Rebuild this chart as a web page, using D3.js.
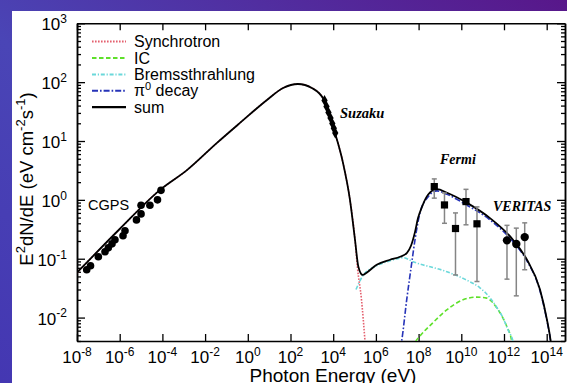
<!DOCTYPE html>
<html>
<head>
<meta charset="utf-8">
<script src="https://cdn.jsdelivr.net/npm/d3@7"></script>
<style>
  html, body { margin: 0; padding: 0; overflow: hidden; background: #fff; }
  svg { display: block; }
  text { font-family: "Liberation Sans", Arial, Helvetica, sans-serif; fill: #000; }
  .obs { font-family: "Liberation Serif", "Times New Roman", serif; font-style: italic; font-weight: bold; }
</style>
</head>
<body>
<svg id="chart" width="567" height="383"></svg>
<script>
// Spectral energy distribution: photon energy E (eV) vs E^2 dN/dE (eV cm^-2 s^-1)

// model components, [E, flux]
const sumModel = [
  [1e-8, 0.058], [1.0e-6, 0.32], [7.8e-5, 1.48], [1.41e-3, 3.2], [0.036, 9.3],
  [0.43, 20.3], [7.9, 49.9], [45, 79.6], [224, 93], [1.0e3, 79.6], [3.7e3, 49.9],
  [1.21e4, 13.7], [2.88e4, 4.25], [6.1e4, 1.0], [1.05e5, 0.21], [1.5e5, 0.074],
  [2.41e5, 0.053], [3.7e5, 0.058], [1.09e6, 0.079], [4.57e6, 0.096], [1.35e7, 0.108],
  [2.86e7, 0.126], [4.4e7, 0.166], [6.8e7, 0.286], [9.4e7, 0.49], [1.44e8, 0.76],
  [2.75e8, 1.22], [7.3e8, 1.52], [2.14e9, 1.32], [1.85e10, 0.89], [2.21e11, 0.49],
  [2.64e12, 0.21], [1.19e13, 0.096], [4.85e13, 0.030], [1.03e14, 0.0092],
  [1.54e14, 0.004], [1.8e14, 0.0025]
];
const synchrotron = [
  [1e-8, 0.058], [1.0e-6, 0.32], [7.8e-5, 1.48], [1.41e-3, 3.2], [0.036, 9.3],
  [0.43, 20.3], [7.9, 49.9], [45, 79.6], [224, 93], [1.0e3, 79.6], [3.7e3, 49.9],
  [1.21e4, 13.7], [2.88e4, 4.25], [6.1e4, 1.0], [1.05e5, 0.21], [1.37e5, 0.070],
  [2.12e5, 0.020], [3.08e5, 0.004], [3.4e5, 0.0025]
];
const inverseCompton = [
  [6e7, 0.003], [7.55e7, 0.004], [9.7e7, 0.0045], [4.72e8, 0.0082], [2.07e9, 0.0135],
  [1.2e10, 0.020], [5.25e10, 0.0223], [1.55e11, 0.0214], [4.55e11, 0.0147],
  [1.34e12, 0.0071], [2.29e12, 0.004], [2.6e12, 0.003]
];
const bremsstrahlung = [
  [1.17e5, 0.030], [2.41e5, 0.051], [1.09e6, 0.076], [4.57e6, 0.092], [1.92e7, 0.104],
  [5.47e7, 0.089], [2.14e9, 0.060], [1.85e10, 0.043], [7.5e10, 0.032],
  [2.21e11, 0.0217], [4.7e11, 0.0147], [8.97e11, 0.0099], [1.54e12, 0.0062],
  [2.63e12, 0.004], [3.2e12, 0.003]
];
const pionDecay = [
  [1.4e7, 0.003], [1.61e7, 0.004], [2.77e7, 0.020], [4.75e7, 0.084], [6.78e7, 0.21],
  [1.16e8, 0.60], [2.75e8, 1.12], [7.3e8, 1.42], [2.14e9, 1.24], [1.85e10, 0.81],
  [2.21e11, 0.457], [2.64e12, 0.194], [1.19e13, 0.092], [4.85e13, 0.0285],
  [1.03e14, 0.0088], [1.51e14, 0.004], [1.75e14, 0.0025]
];

// measurements
const cgps = [
  [2.85e-8, 0.065], [4.3e-8, 0.076], [1.0e-7, 0.108], [2.05e-7, 0.131], [2.92e-7, 0.153],
  [4.36e-7, 0.179], [6.0e-7, 0.21], [1.43e-6, 0.245], [1.77e-6, 0.298], [6.1e-6, 0.457],
  [1.0e-5, 0.578], [1.0e-5, 0.81], [2.6e-5, 0.81], [5.9e-5, 1.0], [8.6e-5, 1.45]
];
const suzaku = [
  [3.92e3, 48.9], [4.86e3, 38.6], [6.0e3, 30.6], [7.5e3, 24.7], [9.1e3, 19.9],
  [1.07e4, 16.4], [1.25e4, 13.7]
];
// [E, flux, lower, upper]
const fermi = [
  [5.43e8, 1.68, 1.07, 2.27], [1.63e9, 0.82, 0.40, 1.31], [5.35e9, 0.326, 0.053, 0.60],
  [1.66e10, 0.935, 0.377, 1.51], [5.43e10, 0.392, 0.041, 0.76]
];
const veritas = [
  [1.38e12, 0.205, 0.045, 0.369], [3.77e12, 0.178, 0.0234, 0.331],
  [9.33e12, 0.233, 0.065, 0.407]
];

const xMajor = [1e-8, 1e-6, 1e-4, 1e-2, 1e0, 1e2, 1e4, 1e6, 1e8, 1e10, 1e12, 1e14];
const xExp = ["-8", "-6", "-4", "-2", "0", "2", "4", "6", "8", "10", "12", "14"];
const yMajor = [1e-2, 1e-1, 1e0, 1e1, 1e2, 1e3];
const yExp = ["-2", "-1", "0", "1", "2", "3"];

const legendItems = [
  { key: "sync", label: "Synchrotron" },
  { key: "ic", label: "IC" },
  { key: "brems", label: "Bremssthrahlung" },
  { key: "pi", label: "decay", pre: "\u03c0", sup: "0" },
  { key: "sum", label: "sum" }
];

const styles = {
  sync:  { color: "#e4606e", width: 1.6, dash: "1.6,1.4" },
  ic:    { color: "#5ee02a", width: 1.6, dash: "4.5,2.5" },
  brems: { color: "#6ad8da", width: 1.6, dash: "4,1.8,1.2,1.8" },
  pi:    { color: "#2633b8", width: 1.6, dash: "6,2,1.6,2" },
  sum:   { color: "#000000", width: 1.8, dash: null }
};

const svg = d3.select("#chart");
const W = 567, H = 383;

// backdrop
const defs = svg.append("defs");
const grad = defs.append("linearGradient").attr("id", "bg")
  .attr("x1", 0).attr("y1", 1).attr("x2", 1).attr("y2", 0);
grad.append("stop").attr("offset", 0).attr("stop-color", "#4437b2");
grad.append("stop").attr("offset", 0.45).attr("stop-color", "#4a45b6");
grad.append("stop").attr("offset", 1).attr("stop-color", "#58178a");
svg.append("rect").attr("width", W).attr("height", H).attr("fill", "url(#bg)");
svg.append("rect").attr("x", 12).attr("y", 11).attr("width", W - 12).attr("height", H - 11).attr("fill", "#fff");

const plot = { left: 77, right: 565, top: 23.3, bottom: 341 };
const x = d3.scaleLog().domain([1e-8, 7.2e14]).range([plot.left, plot.right]);
const y = d3.scaleLog().domain([0.004, 1000]).range([plot.bottom, plot.top]);

defs.append("clipPath").attr("id", "clip").append("rect")
  .attr("x", plot.left).attr("y", plot.top)
  .attr("width", plot.right - plot.left).attr("height", plot.bottom - plot.top);

// minor y ticks
const yMinor = [];
for (let d = -3; d <= 2; d++) {
  for (let k = 2; k <= 9; k++) {
    const v = k * Math.pow(10, d);
    if (v >= 0.004 && v <= 1000) yMinor.push(v);
  }
}

function styleAxis(g) {
  g.selectAll("path").attr("stroke", "#000").attr("stroke-width", 1.5);
  g.selectAll("line").attr("stroke", "#000").attr("stroke-width", 1.3);
  g.selectAll("text").remove();
}

svg.append("g").attr("transform", `translate(0,${plot.bottom})`)
  .call(d3.axisBottom(x).tickValues(xMajor).tickSizeInner(-7).tickSizeOuter(0).tickFormat(() => ""))
  .call(styleAxis);
svg.append("g").attr("transform", `translate(0,${plot.top})`)
  .call(d3.axisTop(x).tickValues(xMajor).tickSizeInner(-7).tickSizeOuter(0).tickFormat(() => ""))
  .call(styleAxis);
svg.append("g").attr("transform", `translate(${plot.left},0)`)
  .call(d3.axisLeft(y).tickValues(yMajor).tickSizeInner(-8).tickSizeOuter(0).tickFormat(() => ""))
  .call(styleAxis);
svg.append("g").attr("transform", `translate(${plot.left},0)`)
  .call(d3.axisLeft(y).tickValues(yMinor).tickSizeInner(-4).tickSizeOuter(0).tickFormat(() => ""))
  .call(styleAxis);
svg.append("g").attr("transform", `translate(${plot.right},0)`)
  .call(d3.axisRight(y).tickValues(yMajor).tickSizeInner(-8).tickSizeOuter(0).tickFormat(() => ""))
  .call(styleAxis);
svg.append("g").attr("transform", `translate(${plot.right},0)`)
  .call(d3.axisRight(y).tickValues(yMinor).tickSizeInner(-4).tickSizeOuter(0).tickFormat(() => ""))
  .call(styleAxis);

// tick labels of the form 10^n
function powerLabel(sel, exp, base, supSize) {
  sel.append("tspan").text("10");
  sel.append("tspan").attr("font-size", supSize).attr("dy", -base * 0.42).text(exp);
}
xMajor.forEach((v, i) => {
  const t = svg.append("text").attr("x", x(v)).attr("y", 363)
    .attr("text-anchor", "middle").attr("font-size", 17);
  powerLabel(t, xExp[i], 17, 12);
});
yMajor.forEach((v, i) => {
  const t = svg.append("text").attr("x", 67).attr("y", y(v) + 7)
    .attr("text-anchor", "end").attr("font-size", 17);
  powerLabel(t, yExp[i], 17, 12);
});

// axis titles
svg.append("text").attr("x", 333).attr("y", 381.5).attr("text-anchor", "middle")
  .attr("font-size", 19).text("Photon Energy (eV)");

const yt = svg.append("text").attr("text-anchor", "middle").attr("font-size", 18.5)
  .attr("transform", "translate(33,179) rotate(-90)");
yt.append("tspan").text("E");
yt.append("tspan").attr("font-size", 13).attr("dy", -8).text("2");
yt.append("tspan").attr("dy", 8).text("dN/dE (eV cm");
yt.append("tspan").attr("font-size", 13).attr("dy", -8).text("-2");
yt.append("tspan").attr("dy", 8).text("s");
yt.append("tspan").attr("font-size", 13).attr("dy", -8).text("-1");
yt.append("tspan").attr("dy", 8).text(")");

// model curves
const line = d3.line().x(d => x(d[0])).y(d => y(d[1])).curve(d3.curveMonotoneX);
const curves = svg.append("g").attr("clip-path", "url(#clip)");
[["ic", inverseCompton], ["brems", bremsstrahlung], ["sync", synchrotron], ["pi", pionDecay], ["sum", sumModel]]
  .forEach(([k, data]) => {
    const s = styles[k];
    curves.append("path").datum(data).attr("d", line)
      .attr("fill", "none").attr("stroke", s.color).attr("stroke-width", s.width)
      .attr("stroke-dasharray", s.dash).attr("stroke-linejoin", "round");
  });

// error bars
const errG = svg.append("g").attr("stroke", "#858585").attr("stroke-width", 1.5);
fermi.concat(veritas).forEach(d => {
  const cx = x(d[0]);
  errG.append("line").attr("x1", cx).attr("x2", cx).attr("y1", y(d[2])).attr("y2", y(d[3]));
  [d[2], d[3]].forEach(v => errG.append("line")
    .attr("x1", cx - 2.5).attr("x2", cx + 2.5).attr("y1", y(v)).attr("y2", y(v)));
});

// markers
svg.append("g").selectAll("circle").data(cgps).join("circle")
  .attr("cx", d => x(d[0])).attr("cy", d => y(d[1])).attr("r", 3.8).attr("fill", "#000");
svg.append("g").selectAll("path").data(suzaku).join("path")
  .attr("transform", d => `translate(${x(d[0])},${y(d[1])})`)
  .attr("d", d3.symbol(d3.symbolDiamond, 34)).attr("fill", "#000");
svg.append("g").selectAll("rect").data(fermi).join("rect")
  .attr("x", d => x(d[0]) - 3.6).attr("y", d => y(d[1]) - 3.6)
  .attr("width", 7.2).attr("height", 7.2).attr("fill", "#000");
svg.append("g").selectAll("circle").data(veritas).join("circle")
  .attr("cx", d => x(d[0])).attr("cy", d => y(d[1])).attr("r", 4.2).attr("fill", "#000");

// instrument labels
svg.append("text").attr("x", 88).attr("y", 210).attr("font-size", 14.5).text("CGPS");
svg.append("text").attr("class", "obs").attr("x", 340).attr("y", 117.5).attr("font-size", 14.5).text("Suzaku");
svg.append("text").attr("class", "obs").attr("x", 440).attr("y", 164).attr("font-size", 14).text("Fermi");
svg.append("text").attr("class", "obs").attr("x", 493).attr("y", 210.5).attr("font-size", 14).text("VERITAS");

// legend
const lg = svg.append("g");
legendItems.forEach((it, i) => {
  const ly = 41.6 + i * 16.4;
  const s = styles[it.key];
  lg.append("line").attr("x1", 92).attr("x2", 126).attr("y1", ly).attr("y2", ly)
    .attr("stroke", s.color).attr("stroke-width", s.width + 0.4)
    .attr("stroke-dasharray", s.dash);
  const t = lg.append("text").attr("x", 134).attr("y", ly + 5.5).attr("font-size", 16);
  if (it.pre) {
    t.append("tspan").text(it.pre);
    t.append("tspan").attr("font-size", 11).attr("dy", -6).text(it.sup);
    t.append("tspan").attr("dy", 6).text(" " + it.label);
  } else {
    t.text(it.label);
  }
});
</script>
</body>
</html>
